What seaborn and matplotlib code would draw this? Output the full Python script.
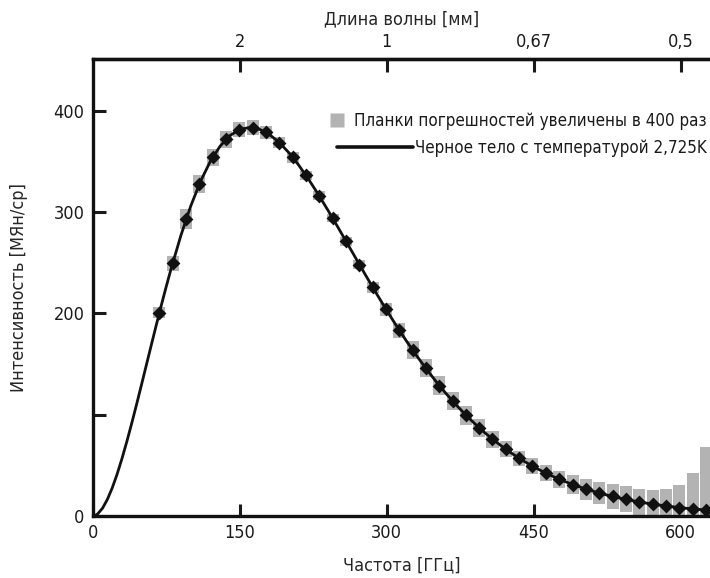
import numpy as np
import pandas as pd
import matplotlib
matplotlib.use('Agg')
import matplotlib.pyplot as plt
import seaborn as sns
from matplotlib.lines import Line2D

# FIRAS measured spectrum (frequency in GHz, intensity in MJy/sr)
freq_ghz = [68.05, 81.54, 95.33, 108.82, 122.31, 136.10, 149.60, 163.39, 176.88,
            190.37, 204.16, 217.65, 231.14, 244.93, 258.42, 272.21, 285.70, 299.19,
            312.98, 326.47, 339.96, 353.75, 367.24, 381.03, 394.52, 408.01, 421.80,
            435.30, 448.79, 462.58, 476.07, 489.86, 503.35, 516.84, 530.63, 544.12,
            557.91, 571.40, 584.89, 598.68, 612.17, 625.66, 639.45]
intensity = [200.72, 249.51, 293.02, 327.77, 354.08, 372.08, 381.49, 383.48, 378.90,
             368.83, 354.06, 336.28, 316.08, 293.92, 271.43, 248.24, 225.94, 204.33,
             183.26, 163.83, 145.75, 128.84, 113.57, 99.45, 87.04, 75.88, 65.77,
             57.01, 49.22, 42.27, 36.35, 31.06, 26.58, 22.64, 19.26, 16.39,
             13.81, 11.72, 9.92, 8.36, 7.09, 5.80, 4.52]
# 1-sigma uncertainty, kJy/sr (shown x400)
sigma_kjy = [14, 19, 25, 23, 22, 21, 18, 18, 16, 14, 13, 12, 11, 10, 11, 12, 14, 16,
             18, 22, 22, 23, 23, 23, 22, 21, 20, 19, 19, 19, 21, 23, 26, 28, 30, 32,
             33, 35, 41, 55, 88, 155, 282]

# blackbody curve, 2.725 K
bb_freq = [0, 2.5, 5, 10, 15, 20, 25, 30, 35, 40, 45, 50, 55, 60, 65, 70, 75, 80, 90,
           100, 110, 120, 130, 140, 150, 160, 170, 180, 190, 200, 210, 220, 230, 240,
           250, 260, 270, 280, 290, 300, 310, 320, 330, 340, 350, 360, 370, 380, 390,
           400, 410, 420, 430, 440, 450, 460, 470, 480, 490, 500, 510, 520, 530, 540,
           550, 560, 570, 580, 590, 600, 610, 620, 630, 640]
bb_int = [0, 0.51, 2.00, 7.66, 16.46, 27.94, 41.65, 57.18, 74.18, 92.27, 111.14,
          130.51, 150.11, 169.70, 189.08, 208.08, 226.49, 244.21, 277.08,
          305.98, 330.44, 350.19, 365.23, 375.67, 381.72, 383.69, 382.00, 377.03,
          369.21, 358.98, 346.76, 332.95, 317.93, 302.04, 285.59, 268.84, 252.02,
          235.35, 219.01, 203.10, 187.75, 173.05, 159.05, 145.79, 133.30, 121.60,
          110.66, 100.50, 91.09, 82.39, 74.39, 67.05, 60.33, 54.19, 48.61, 43.54,
          38.94, 34.78, 31.02, 27.64, 24.59, 21.86, 19.40, 17.21, 15.25, 13.50,
          11.93, 10.54, 9.30, 8.21, 7.23, 6.37, 5.60, 4.92]

x_ticks = [0, 150, 300, 450, 600]
y_ticks = [0, 100, 200, 300, 400]
y_labels = ['0', '', '200', '300', '400']
wl_ticks = [150, 300, 450, 600]
wl_labels = ['2', '1', '0,67', '0,5']

df = pd.DataFrame({'freq': freq_ghz, 'val': intensity,
                   'err': np.array(sigma_kjy) * 400 / 1000.0})
bb = pd.DataFrame({'freq': bb_freq, 'val': bb_int})

sns.set_style('ticks')
plt.rcParams['font.family'] = ['DejaVu Sans']
plt.rcParams['font.stretch'] = 'condensed'
txt = '#1a1a1a'
plt.rcParams['text.color'] = txt
plt.rcParams['xtick.color'] = txt
plt.rcParams['ytick.color'] = txt
fs = 13
fs_leg = 12.2

fig = plt.figure(figsize=(7.1, 5.78), dpi=100)
ax = fig.add_axes([0.1306, 0.1073, 0.8694, 0.7901])

gray = '#b3b3b3'
ax.bar(df['freq'], 2 * df['err'], bottom=df['val'] - df['err'], width=12.3,
       color=gray, edgecolor='none', zorder=1)
sns.lineplot(data=bb, x='freq', y='val', color='#111111', linewidth=2.0,
             ax=ax, zorder=2)
sns.scatterplot(data=df, x='freq', y='val', marker='D', s=50, color='#111111',
                edgecolor='#111111', linewidth=0, ax=ax, zorder=3)

ax.set_xlim(0, 630)
ax.set_ylim(0, 451)
ax.set_xticks(x_ticks)
ax.set_yticks(y_ticks, y_labels)
ax.set_xlabel('Частота [ГГц]', fontsize=fs, labelpad=10)
ax.set_ylabel('Интенсивность [МЯн/ср]', fontsize=fs, labelpad=18)
ax.tick_params(direction='in', length=9, width=2.2, labelsize=fs, pad=6)

for s in ['left', 'bottom', 'top']:
    ax.spines[s].set_linewidth(2.4)
    ax.spines[s].set_color('#111111')
ax.spines['right'].set_visible(False)

top = ax.secondary_xaxis('top')
top.set_xticks(wl_ticks, wl_labels)
top.tick_params(direction='in', length=9, width=2.2, labelsize=fs, pad=6)
top.spines['top'].set_linewidth(2.4)
top.set_xlabel('Длина волны [мм]', fontsize=fs, labelpad=6)

h1 = Line2D([], [], marker='s', linestyle='none', markersize=10,
            markerfacecolor=gray, markeredgecolor='none')
h2 = Line2D([], [], color='#111111', linewidth=2.6)
leg1 = ax.legend([h1], ['Планки погрешностей увеличены в 400 раз'], loc='upper right',
                 bbox_to_anchor=(1.005, 0.9), frameon=False, fontsize=fs_leg,
                 handlelength=0.8, handletextpad=0.6, borderaxespad=0)
ax.add_artist(leg1)
ax.legend([h2], ['Черное тело с температурой 2,725K'], loc='upper right',
          bbox_to_anchor=(1.005, 0.84), frameon=False, fontsize=fs_leg,
          handlelength=4.5, handletextpad=0.1, borderaxespad=0)

fig.savefig('out.png', dpi=100)
